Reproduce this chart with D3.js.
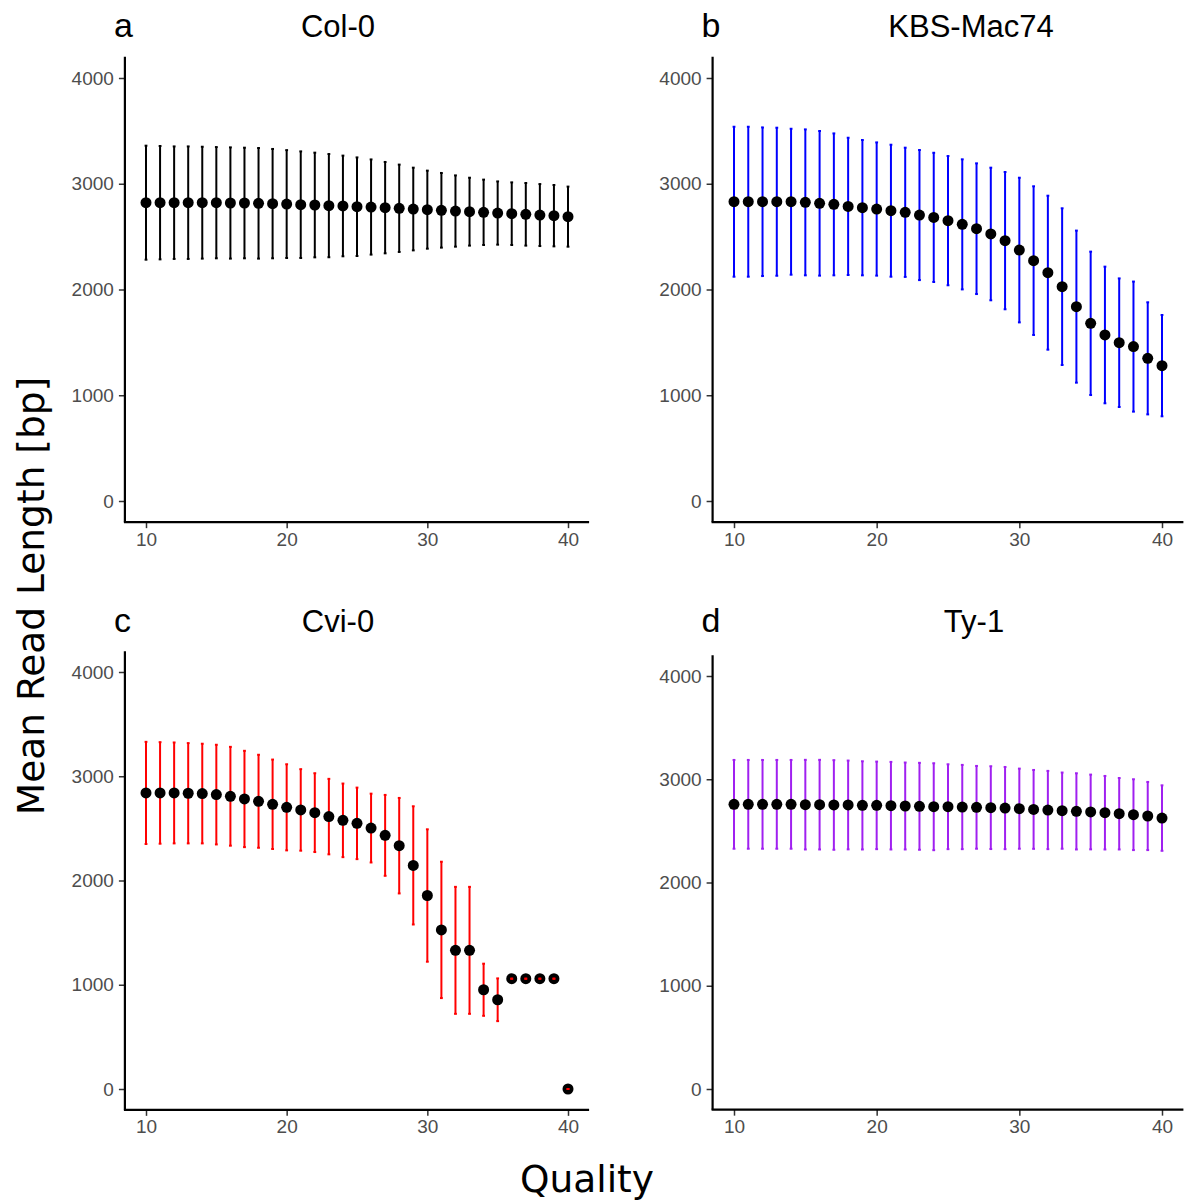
<!DOCTYPE html>
<html>
<head>
<meta charset="utf-8">
<script src="https://cdn.jsdelivr.net/npm/d3@7"></script>
<style>
  body { margin: 0; background: #fff; }
  svg { display: block; }
</style>
</head>
<body>
<div id="chart"></div>
<script>
// quality scores on the x axis
var quality = [10, 11, 12, 13, 14, 15, 16, 17, 18, 19, 20, 21, 22, 23, 24, 25,
               26, 27, 28, 29, 30, 31, 32, 33, 34, 35, 36, 37, 38, 39, 40];

var yTicks = [0, 1000, 2000, 3000, 4000];
var xTicks = [10, 20, 30, 40];

// Col-0
var col0Mean = [2821, 2821, 2821, 2821, 2821, 2821, 2818, 2818, 2815, 2812, 2808,
                2802, 2799, 2793, 2790, 2783, 2780, 2774, 2768, 2761, 2755, 2749,
                2742, 2736, 2730, 2723, 2717, 2711, 2704, 2698, 2689];
var col0Sd = [539, 536, 532, 532, 529, 526, 526, 523, 523, 517, 510, 504, 495, 488,
              476, 466, 450, 432, 413, 391, 369, 353, 337, 321, 309, 299, 296, 296,
              293, 290, 284];

// KBS-Mac74
var kbsMean = [2830, 2830, 2830, 2830, 2830, 2824, 2815, 2805, 2786, 2774, 2761,
               2745, 2730, 2704, 2682, 2651, 2616, 2575, 2525, 2462, 2373, 2273,
               2159, 2027, 1838, 1680, 1570, 1497, 1460, 1349, 1280];
var kbsSd = [709, 709, 703, 700, 690, 690, 684, 671, 649, 640, 630, 624, 611, 615,
             611, 611, 615, 618, 627, 649, 684, 703, 728, 741, 719, 678, 646, 608,
             615, 530, 479];

// Cvi-0
var cviMean = [2840, 2840, 2840, 2837, 2834, 2824, 2808, 2782, 2760, 2731, 2702,
               2677, 2651, 2613, 2577, 2548, 2503, 2433, 2334, 2145, 1856, 1526,
               1330, 1330, 952, 856, 1058, 1058, 1058, 1058, 0];
var cviSd = [490, 487, 484, 481, 478, 478, 474, 462, 446, 429, 413, 391, 378, 362,
             353, 343, 330, 388, 458, 567, 635, 654, 609, 609, 250, 205, 0, 0, 0,
             0, 0];

// Ty-1
var ty1Mean = [2757, 2757, 2757, 2757, 2757, 2754, 2754, 2751, 2751, 2747, 2747,
               2744, 2741, 2738, 2734, 2734, 2731, 2728, 2725, 2721, 2715, 2708,
               2702, 2696, 2689, 2683, 2676, 2666, 2657, 2644, 2624];
var ty1Sd = [430, 430, 430, 430, 430, 434, 434, 434, 430, 427, 424, 424, 421, 421,
             421, 411, 408, 401, 401, 398, 388, 382, 379, 369, 369, 362, 356, 346,
             343, 330, 317];

var W = 1195, H = 1201;
var sans = 'Liberation Sans, Arial, Helvetica, sans-serif';

var svg = d3.select('#chart')
    .append('svg')
    .attr('width', W)
    .attr('height', H);

// panel boxes: pixel positions of x=10, x=40, y=0, y=4000
var panels = [
    { tag: 'a', title: 'Col-0', mean: col0Mean, sd: col0Sd, color: '#000000',
      x10: 146, x40: 568, y0: 501, y4000: 78, titleX: 338, titleY: 37 },
    { tag: 'b', title: 'KBS-Mac74', mean: kbsMean, sd: kbsSd, color: '#0000ff',
      x10: 734, x40: 1162, y0: 501, y4000: 78, titleX: 971, titleY: 37 },
    { tag: 'c', title: 'Cvi-0', mean: cviMean, sd: cviSd, color: '#ff0000',
      x10: 146, x40: 568, y0: 1089, y4000: 672, titleX: 338, titleY: 632 },
    { tag: 'd', title: 'Ty-1', mean: ty1Mean, sd: ty1Sd, color: '#a020f0',
      x10: 734, x40: 1162, y0: 1089, y4000: 676, titleX: 974, titleY: 632 }
];

panels.forEach(function(p) {
    // ggplot style 5% expansion on both axes
    var ppu = (p.x40 - p.x10) / 30;
    var ppv = (p.y0 - p.y4000) / 4000;
    var xs = d3.scaleLinear()
        .domain([8.5, 41.5])
        .range([p.x10 - 1.5 * ppu, p.x40 + 1.5 * ppu]);
    var ys = d3.scaleLinear()
        .domain([-200, 4200])
        .range([p.y0 + 200 * ppv, p.y4000 - 200 * ppv]);
    var left = xs(8.5), right = xs(41.5), bottom = ys(-200), top = ys(4200);

    var g = svg.append('g');

    var xAxis = d3.axisBottom(xs).tickValues(xTicks).tickFormat(d3.format('d'))
        .tickSize(6).tickPadding(4);
    var yAxis = d3.axisLeft(ys).tickValues(yTicks).tickFormat(d3.format('d'))
        .tickSize(6).tickPadding(5);

    var gx = g.append('g')
        .attr('transform', 'translate(0,' + bottom + ')')
        .call(xAxis);
    var gy = g.append('g')
        .attr('transform', 'translate(' + left + ',0)')
        .call(yAxis);

    [gx, gy].forEach(function(ax) {
        ax.select('.domain').remove();
        ax.selectAll('.tick line').attr('stroke', '#333333').attr('stroke-width', 1.5);
        ax.selectAll('.tick text')
            .attr('fill', '#4d4d4d')
            .attr('font-family', sans)
            .attr('font-size', '19px');
    });

    // axis lines
    g.append('line')
        .attr('x1', left - 1).attr('x2', right)
        .attr('y1', bottom).attr('y2', bottom)
        .attr('stroke', '#000').attr('stroke-width', 2.2);
    g.append('line')
        .attr('x1', left).attr('x2', left)
        .attr('y1', bottom).attr('y2', top)
        .attr('stroke', '#000').attr('stroke-width', 2.2);

    var rows = quality.map(function(q, i) {
        return { q: q, m: p.mean[i], s: p.sd[i] };
    });

    // error bars
    g.selectAll('line.bar')
        .data(rows)
        .enter()
        .append('line')
        .attr('class', 'bar')
        .attr('x1', function(d) { return xs(d.q); })
        .attr('x2', function(d) { return xs(d.q); })
        .attr('y1', function(d) { return ys(d.m - d.s); })
        .attr('y2', function(d) { return ys(d.m + d.s); })
        .attr('stroke', p.color)
        .attr('stroke-width', 2);

    // means
    g.selectAll('circle')
        .data(rows)
        .enter()
        .append('circle')
        .attr('cx', function(d) { return xs(d.q); })
        .attr('cy', function(d) { return ys(d.m); })
        .attr('r', 5.5)
        .attr('fill', '#000');

    // caps (on top, so zero-width bars still show)
    var capW = 1.4;
    rows.forEach(function(d) {
        [d.m - d.s, d.m + d.s].forEach(function(v) {
            g.append('line')
                .attr('x1', xs(d.q) - capW).attr('x2', xs(d.q) + capW)
                .attr('y1', ys(v)).attr('y2', ys(v))
                .attr('stroke', p.color)
                .attr('stroke-width', 2);
        });
    });

    // panel tag and title
    g.append('text')
        .attr('x', left - 11)
        .attr('y', p.titleY)
        .attr('font-family', sans)
        .attr('font-size', '34px')
        .attr('fill', '#000')
        .text(p.tag);

    g.append('text')
        .attr('x', p.titleX)
        .attr('y', p.titleY)
        .attr('text-anchor', 'middle')
        .attr('font-family', sans)
        .attr('font-size', '31px')
        .attr('fill', '#000')
        .text(p.title);
});

// shared axis titles
svg.append('text')
    .attr('transform', 'translate(44,596) rotate(-90)')
    .attr('text-anchor', 'middle')
    .attr('font-family', 'DejaVu Sans, sans-serif')
    .attr('font-size', '37.5px')
    .attr('fill', '#000')
    .text('Mean Read Length [bp]');

svg.append('text')
    .attr('x', 587)
    .attr('y', 1192)
    .attr('text-anchor', 'middle')
    .attr('font-family', 'DejaVu Sans, sans-serif')
    .attr('font-size', '37.5px')
    .attr('fill', '#000')
    .text('Quality');
</script>
</body>
</html>
